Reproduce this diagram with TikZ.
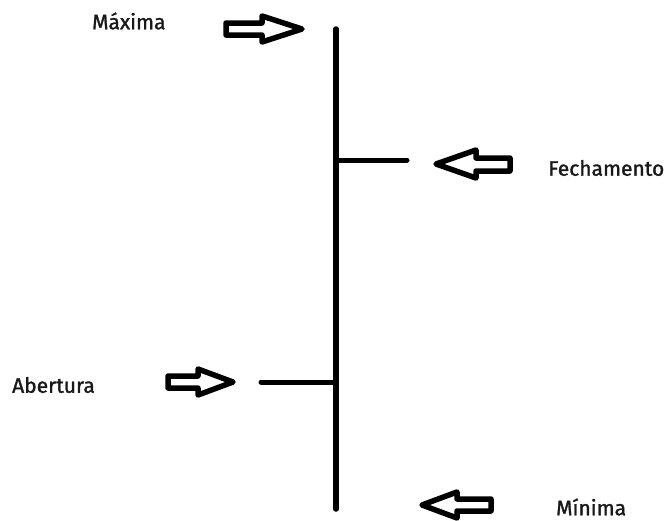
\documentclass[tikz,border=0pt]{standalone}
\usepackage{fontspec}
\setmainfont{Fira Sans}
\newfontfamily\labelfont[FakeBold=1.4]{Fira Sans}
\begin{document}
\begin{tikzpicture}[x=1pt,y=-1pt,
  label/.style={font=\labelfont\fontsize{21}{24}\selectfont, text=black!90, inner sep=0pt, anchor=west},
  stem/.style={line width=5.5pt, line cap=round},
  tick/.style={line width=5pt, line cap=round},
  blockarrow/.style={line width=5.5pt, line join=round, fill=white, draw=black}]
\useasboundingbox (0,0) rectangle (669,520);

% right-pointing block arrow: #1 tail x, #2 head base x, #3 tip x, #4 centre y
\newcommand\rarrow[4]{%
  \draw[blockarrow] (#1,#4-6) -- (#2,#4-6) -- (#2,#4-13) -- (#3,#4) -- (#2,#4+13) -- (#2,#4+6) -- (#1,#4+6) -- cycle;}

% main vertical line and its two ticks
\coordinate (top) at (336,29);
\coordinate (bottom) at (336,509);
\coordinate (closeL) at (336,160);
\coordinate (closeR) at (407,160);
\coordinate (openL) at (261,382);
\coordinate (openR) at (336,382);
\draw[stem] (top) -- (bottom);
\draw[tick] (closeL) -- (closeR);
\draw[tick] (openL) -- (openR);

% labels
\node[label] (max) at (92,21) {Máxima};
\node[label] (fech) at (548,168) {Fechamento};
\node[label] (abert) at (12,385) {Abertura};
\node[label] (min) at (556,507) {Mínima};

% block arrows
\rarrow{226}{262}{302}{29}
\rarrow{168}{198}{233}{382}
\draw[blockarrow] (510,158) -- (476,158) -- (476,150) -- (436,164) -- (476,178) -- (476,171) -- (510,171) -- cycle;
\draw[blockarrow] (491,499) -- (457,499) -- (457,492) -- (422,505) -- (457,518) -- (457,511) -- (491,511) -- cycle;
\end{tikzpicture}
\end{document}
